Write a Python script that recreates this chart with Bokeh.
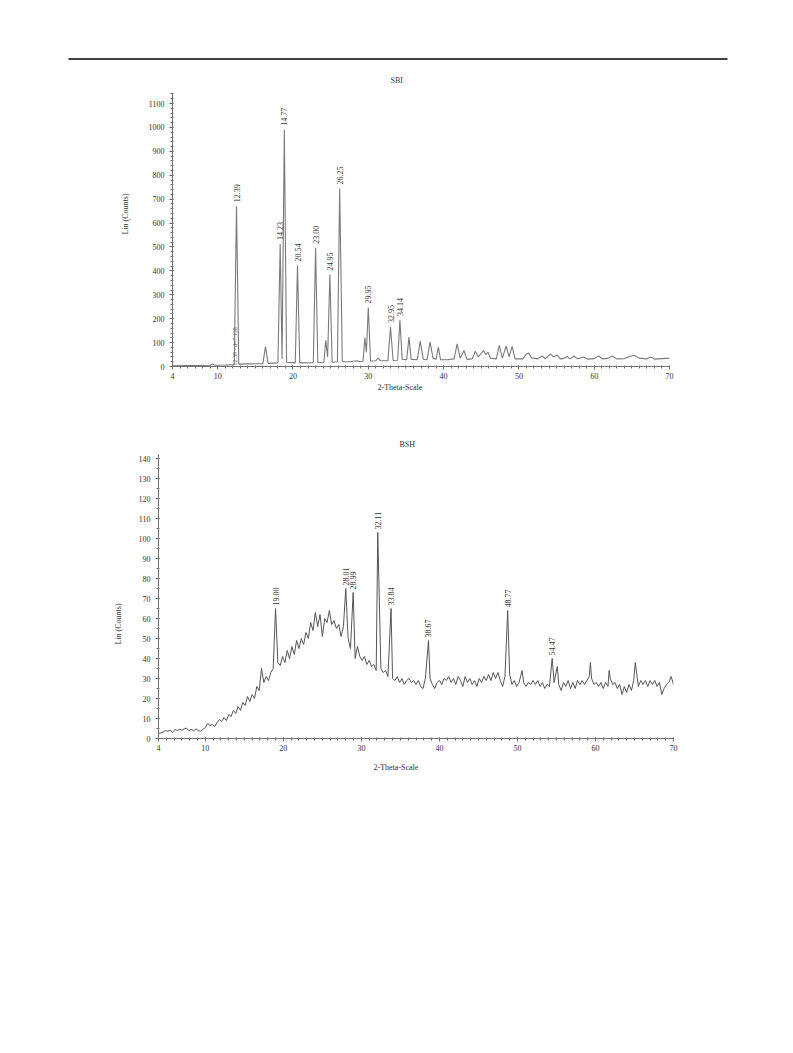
import numpy as np
from bokeh.plotting import figure
from bokeh.layouts import column
from bokeh.models import Range1d, FixedTicker, ColumnDataSource, Title
from bokeh.core.properties import value
from bokeh.embed import file_html
from bokeh.resources import INLINE

FONT = "Liberation Serif"
TXT = "#333333"
W = 792

# ---------------- SBI pattern (digitised vertices) ----------------
sbi_two_theta = [4.0, 6.0, 8.0, 9.0, 9.3, 9.6, 11.0, 12.2, 12.5, 12.8,
                 14.0, 16.0, 16.35, 16.7, 18.0, 18.3, 18.55, 18.85, 19.15, 20.3,
                 20.6, 20.9, 22.7, 23.0, 23.3, 24.1, 24.35, 24.6, 24.9, 25.2,
                 25.9, 26.2, 26.55, 27.5, 28.5, 28.8, 29.3, 29.55, 29.75, 30.0,
                 30.3, 31.0, 31.3, 31.6, 32.6, 32.95, 33.3, 33.9, 34.2, 34.5,
                 35.1, 35.4, 35.7, 36.5, 36.9, 37.3, 37.8, 38.2, 38.6, 39.0,
                 39.3, 39.6, 40.5, 41.4, 41.8, 42.2, 42.7, 43.1, 43.8, 44.2,
                 44.6, 45.0, 45.3, 45.6, 45.9, 46.2, 47.0, 47.4, 47.8, 48.3,
                 48.7, 49.1, 49.5, 50.5, 51.0, 51.3, 51.7, 52.5, 53.1, 53.5,
                 54.2, 54.6, 55.1, 55.5, 56.0, 56.4, 56.8, 57.3, 57.8, 58.6,
                 59.1, 60.0, 60.6, 61.1, 61.8, 62.4, 63.0, 64.0, 64.7, 65.3,
                 66.0, 67.0, 67.5, 68.0, 69.0, 70.0]
sbi_counts = [3, 4, 4, 5, 10, 5, 6, 8, 670, 10,
              11, 12, 82, 13, 15, 512, 30, 990, 18, 15,
              422, 15, 16, 497, 16, 18, 110, 40, 385, 18,
              20, 745, 20, 20, 24, 21, 22, 120, 60, 247,
              22, 24, 35, 24, 24, 165, 25, 26, 195, 30,
              28, 123, 30, 28, 106, 30, 28, 102, 35, 30,
              81, 28, 28, 32, 95, 35, 67, 30, 32, 64,
              40, 55, 67, 50, 60, 35, 32, 88, 35, 85,
              40, 84, 32, 32, 52, 56, 36, 32, 44, 32,
              53, 40, 48, 32, 34, 42, 32, 44, 32, 40,
              31, 33, 44, 32, 34, 44, 32, 33, 42, 47,
              35, 32, 40, 31, 33, 35]
sbi_peak_pos = [12.5, 18.3, 18.85, 20.6, 23.0, 24.9, 26.2, 30.0, 32.95, 34.2]
sbi_peak_counts = [670, 512, 990, 422, 497, 385, 745, 247, 165, 195]
sbi_peak_labels = ["12.39", "14.23", "14.77", "20.54", "23.00", "24.95",
                   "26.25", "29.95", "32.95", "34.14"]

# ---------------- BSH pattern ----------------
bsh_start = 4.0
bsh_step = 0.3
bsh_background = [
    2.5, 2.8, 3.2, 4.0, 3.6, 4.2, 3.0, 4.5, 4.0, 4.6, 4.2, 4.8, 5.2, 4.0, 4.6, 3.8, 4.8, 4.0, 3.6, 4.6, 5.5,
    7.5, 6.5, 7.0, 6.0, 8.0, 9.5, 8.5, 10.5, 9.0, 12.0, 11.0, 14.0, 12.5, 16.0, 14.0, 18.0, 16.5, 21.0, 18.5, 22.0,
    20.0, 26.0, 24.0, 35.0, 28.0, 31.0, 29.0, 33.0, 35.0, 36.0, 38.0, 36.5, 41.0, 38.0, 44.0, 40.0, 46.0, 42.0, 49.0, 45.0,
    50.0, 47.0, 53.0, 50.0, 58.0, 54.0, 63.0, 56.0, 62.0, 51.0, 60.0, 58.0, 64.0, 57.0, 59.0, 55.0, 57.0, 51.0, 56.0, 48.0,
    50.0, 45.0, 47.0, 40.0, 46.0, 41.0, 39.0, 41.0, 37.0, 39.0, 36.0, 37.0, 34.0, 40.0, 35.0, 33.0, 34.0, 31.0, 32.0, 30.0,
    29.0, 31.0, 28.0, 30.0, 27.0, 29.0, 30.0, 28.0, 29.0, 27.0, 29.0, 26.0, 25.0, 30.0, 33.0, 30.0, 27.0, 25.0, 28.0, 29.0,
    27.0, 30.0, 29.0, 31.0, 28.0, 30.0, 27.0, 31.0, 29.0, 26.0, 31.0, 28.0, 30.0, 27.0, 29.0, 26.0, 30.0, 28.0, 31.0, 29.0,
    32.0, 29.0, 33.0, 30.0, 33.0, 29.0, 26.0, 31.0, 33.0, 32.0, 27.0, 29.0, 26.0, 28.0, 30.0, 28.0, 26.0, 28.0, 27.0, 29.0,
    27.0, 29.0, 26.0, 28.0, 25.0, 27.0, 26.0, 30.0, 28.0, 30.0, 27.0, 24.0, 28.0, 26.0, 29.0, 25.0, 28.0, 25.0, 29.0, 27.0,
    29.0, 27.0, 29.0, 31.0, 30.0, 27.0, 28.0, 26.0, 28.0, 25.0, 28.0, 26.0, 30.0, 27.0, 28.0, 25.0, 27.0, 22.0, 26.0, 23.0,
    27.0, 24.0, 29.0, 30.0, 26.0, 29.0, 27.0, 29.0, 26.0, 29.0, 27.0, 29.0, 26.0, 28.0, 22.0, 25.0, 27.0, 28.0, 31.0, 27.0,
]
bsh_peak_pos = [19.0, 28.0, 28.95, 32.1, 33.8, 38.6, 48.75, 54.45]
bsh_peak_counts = [65, 75, 73, 103, 65, 49, 64, 40]
bsh_peak_labels = ["19.00", "28.01", "28.99", "32.11", "33.84", "38.67", "48.77", "54.47"]
bsh_minor_pos = [50.6, 55.1, 59.35, 61.75, 65.1]
bsh_minor_counts = [34, 36, 38, 34, 38]

x_major = [4, 10, 20, 30, 40, 50, 60, 70]
x_minor = list(range(4, 71))


def style_axes(p, yticks, yminor):
    p.xaxis.ticker = FixedTicker(ticks=x_major, minor_ticks=x_minor)
    p.yaxis.ticker = FixedTicker(ticks=yticks, minor_ticks=yminor)
    for ax in (p.xaxis[0], p.yaxis[0]):
        ax.axis_line_color = "#707070"
        ax.axis_line_width = 1
        ax.major_tick_line_color = "#707070"
        ax.minor_tick_line_color = "#707070"
        ax.major_tick_in = 1
        ax.major_tick_out = 3
        ax.minor_tick_in = 1
        ax.minor_tick_out = 2
        ax.major_label_text_font = FONT
        ax.major_label_text_font_size = "8px"
        ax.major_label_text_color = TXT
    p.xaxis.major_label_standoff = 3
    p.yaxis.major_label_standoff = 5
    p.grid.visible = False
    p.outline_line_color = None
    p.background_fill_color = "white"
    p.border_fill_color = "white"


def add_title(p, txt, side, offset, standoff, size="8px", valign="bottom"):
    t = Title(text=txt, align="left", offset=offset, standoff=standoff,
              text_font=FONT, text_font_size=size, text_font_style="normal",
              text_color=TXT, vertical_align=valign)
    p.add_layout(t, side)


# ---------------- header rule ----------------
head = figure(width=W, height=60, x_range=Range1d(0, W), y_range=Range1d(0, 60),
              x_axis_type=None, y_axis_type=None, toolbar_location=None,
              output_backend="svg", min_border=0, frame_align=False)
head.outline_line_color = None
head.grid.visible = False
head.line(x=[68, 727], y=[1.5, 1.5], line_color="black", line_width=1.5)

# ---------------- SBI figure ----------------
p1 = figure(width=W, height=340, x_range=Range1d(4, 70), y_range=Range1d(0, 1142),
            toolbar_location=None, output_backend="svg", frame_align=False,
            min_border_left=172, min_border_right=W - 669, min_border_top=33, min_border_bottom=34)
style_axes(p1, list(range(0, 1101, 100)), list(range(0, 1141, 20)))
p1.line(x=sbi_two_theta, y=sbi_counts, line_color="#7a7a7a", line_width=1.1)
src1 = ColumnDataSource(dict(x=sbi_peak_pos, y=sbi_peak_counts, t=sbi_peak_labels))
p1.text(x="x", y="y", text="t", source=src1, angle=np.pi / 2, text_align="left",
        text_baseline="middle", y_offset=-4, text_font=value(FONT),
        text_font_size="8px", text_color=TXT)
p1.text(x=[12.3], y=[4], text=["12.39 - d=7.138"], angle=np.pi / 2, text_align="left",
        text_baseline="middle", text_font=value(FONT), text_font_size="6px",
        text_color="#555555")
add_title(p1, "SBI", "above", offset=218, standoff=18, size="8px")
add_title(p1, "2-Theta-Scale", "below", offset=205, standoff=3, valign="top")
add_title(p1, "Lin (Counts)", "left", offset=132, standoff=32)

# ---------------- BSH figure ----------------
bsh_x_bg = bsh_start + bsh_step * np.arange(len(bsh_background))
all_pos = bsh_peak_pos + bsh_minor_pos
all_cnt = bsh_peak_counts + bsh_minor_counts
keep = np.array([all(abs(x - q) > 0.12 for q in all_pos) for x in bsh_x_bg])
xs = np.concatenate([bsh_x_bg[keep], np.array(all_pos)])
ys = np.concatenate([np.array(bsh_background)[keep], np.array(all_cnt, dtype=float)])
order = np.argsort(xs)

p2 = figure(width=W, height=400, x_range=Range1d(4, 70), y_range=Range1d(0, 142),
            toolbar_location=None, output_backend="svg", frame_align=False,
            min_border_left=158, min_border_right=W - 673, min_border_top=54, min_border_bottom=62)
style_axes(p2, list(range(0, 141, 10)), list(range(0, 141, 5)))
p2.line(x=xs[order], y=ys[order], line_color="#555555", line_width=1)
src2 = ColumnDataSource(dict(x=bsh_peak_pos, y=bsh_peak_counts, t=bsh_peak_labels))
p2.text(x="x", y="y", text="t", source=src2, angle=np.pi / 2, text_align="left",
        text_baseline="middle", y_offset=-3, text_font=value(FONT),
        text_font_size="8px", text_color=TXT)
add_title(p2, "BSH", "above", offset=241, standoff=12, size="8px")
add_title(p2, "2-Theta-Scale", "below", offset=215, standoff=18, valign="top")
add_title(p2, "Lin (Counts)", "left", offset=94, standoff=26)

page = column(head, p1, p2, spacing=0)
open("out.html", "w").write(file_html(page, INLINE))
